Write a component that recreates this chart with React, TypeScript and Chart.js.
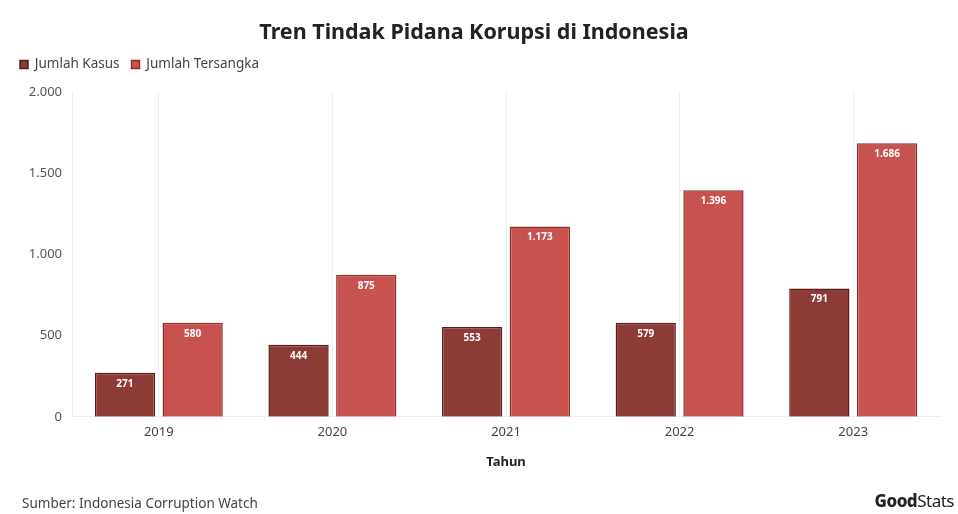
import React, { useEffect, useRef } from "react";
import { Chart, registerables } from "chart.js";

Chart.register(...registerables);

const years = ["2019", "2020", "2021", "2022", "2023"];
const jumlahKasus = [271, 444, 553, 579, 791];
const jumlahTersangka = [580, 875, 1173, 1396, 1686];
const yTicks = [0, 500, 1000, 1500, 2000];

const FONT = "'Noto Sans', 'Open Sans', sans-serif";

function fmt(n: number): string {
  return String(n).replace(/\B(?=(\d{3})+(?!\d))/g, ".");
}

const valueLabels = {
  id: "valueLabels",
  afterDatasetsDraw(chart: any) {
    const ctx = chart.ctx;
    ctx.save();
    ctx.fillStyle = "#ffffff";
    ctx.font = `bold 10px ${FONT}`;
    ctx.textAlign = "center";
    ctx.textBaseline = "middle";
    chart.data.datasets.forEach((ds: any, i: number) => {
      const meta = chart.getDatasetMeta(i);
      meta.data.forEach((bar: any, j: number) => {
        ctx.fillText(fmt(ds.data[j]), bar.x, bar.y + 11);
      });
    });
    ctx.restore();
  },
};

const legendSpacing = {
  id: "legendSpacing",
  beforeInit(chart: any) {
    const legend = chart.legend;
    if (!legend) return;
    const origFit = legend.fit;
    legend.fit = function () {
      origFit.call(this);
      this.height += 11;
    };
  },
};

export default function App() {
  const ref = useRef<HTMLCanvasElement>(null);
  useEffect(() => {
    document.body.style.margin = "0";
    const chart = new Chart(ref.current!, {
      type: "bar",
      data: {
        labels: years,
        datasets: [
          {
            label: "Jumlah Kasus",
            data: jumlahKasus,
            backgroundColor: "#8c3b37",
            borderColor: "#5a1c1a",
            borderWidth: 1.5,
          },
          {
            label: "Jumlah Tersangka",
            data: jumlahTersangka,
            backgroundColor: "#c8524e",
            borderColor: "#8e2f2c",
            borderWidth: 1.5,
          },
        ],
      },
      options: {
        animation: false,
        responsive: false,
        devicePixelRatio: 1,
        layout: { padding: { left: 8, right: 18, top: 20, bottom: 44 } },
        datasets: {
          bar: { categoryPercentage: 0.78, barPercentage: 0.89 },
        },
        plugins: {
          title: {
            display: true,
            text: "Tren Tindak Pidana Korupsi di Indonesia",
            color: "#222222",
            font: { family: FONT, size: 21.5, weight: "bold" },
            padding: { top: 0, bottom: 0 },
          },
          legend: {
            display: true,
            position: "top",
            align: "start",
            labels: {
              boxWidth: 8,
              boxHeight: 8,
              color: "#444444",
              font: { family: FONT, size: 13.5 },
              padding: 12,
            },
          },
          tooltip: { enabled: false },
        },
        scales: {
          x: {
            grid: { display: true, offset: false, color: "#eeeeee", drawTicks: false },
            border: { display: true, color: "#eeeeee" },
            ticks: { color: "#444444", font: { family: FONT, size: 13 }, padding: 8 },
            title: {
              display: true,
              text: "Tahun",
              color: "#222222",
              font: { family: FONT, size: 13, weight: "bold" },
              padding: { top: 6, bottom: 0 },
            },
          },
          y: {
            min: 0,
            max: 2000,
            afterBuildTicks: (s: any) => {
              s.ticks = yTicks.map((v) => ({ value: v }));
            },
            afterFit: (s: any) => {
              s.width = 64;
            },
            grid: { display: false, drawTicks: false },
            border: { display: true, color: "#f0f0f0" },
            ticks: {
              color: "#555555",
              font: { family: FONT, size: 13 },
              padding: 10,
              callback: (v: any) => fmt(Number(v)),
            },
          },
        },
      },
      plugins: [legendSpacing, valueLabels],
    });
    return () => chart.destroy();
  }, []);

  return (
    <div style={{ position: "relative", width: 958, height: 514, background: "#fff", fontFamily: FONT }}>
      <canvas ref={ref} width={958} height={514} style={{ display: "block" }} />
      <div style={{ position: "absolute", left: 22, top: 494, fontSize: 13.5, color: "#444", lineHeight: "18px" }}>
        Sumber: Indonesia Corruption Watch
      </div>
      <div style={{ position: "absolute", right: 4, top: 490, fontSize: 17, color: "#222", letterSpacing: -0.5, lineHeight: "22px" }}>
        <span style={{ fontWeight: 800 }}>Good</span>
        <span style={{ fontWeight: 400 }}>Stats</span>
      </div>
    </div>
  );
}
